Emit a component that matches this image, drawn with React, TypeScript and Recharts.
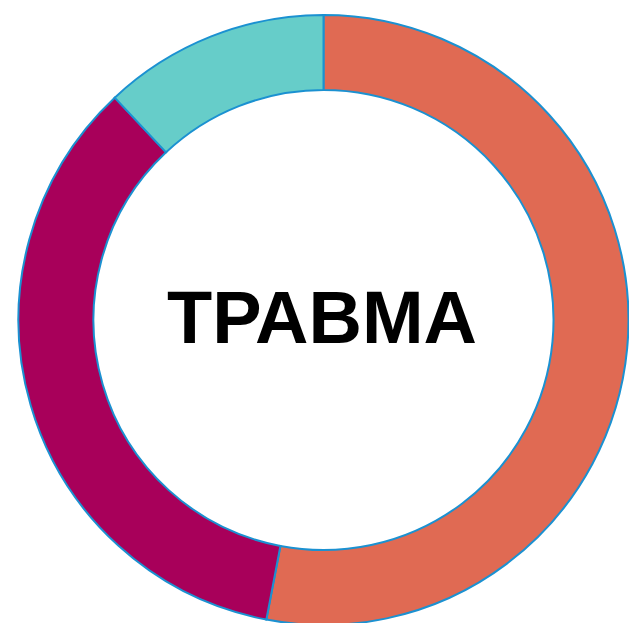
import React from "react";
import { PieChart, Pie, Cell, Label } from "recharts";

const categories = ["Категория 1", "Категория 2", "Категория 3"];
const values = [53, 35, 12];
const sliceColors = ["#E06A53", "#A8005A", "#66CDC9"];
const centerTitle = "ТРАВМА";

const data = categories.map((name, i) => ({ name, value: values[i] }));

export default function App() {
  return (
    <div
      style={{
        position: "fixed",
        left: 0,
        top: 0,
        width: 629,
        height: 623,
        background: "#fff",
      }}
    >
      <PieChart
        width={629}
        height={623}
        margin={{ top: 0, right: 0, bottom: 0, left: 0 }}
      >
        <Pie
          data={data}
          dataKey="value"
          nameKey="name"
          cx={323.5}
          cy={320}
          innerRadius={230}
          outerRadius={305}
          startAngle={90}
          endAngle={-270}
          stroke="#1B91D1"
          strokeWidth={2}
          isAnimationActive={false}
        >
          {data.map((_, index) => (
            <Cell key={`cell-${index}`} fill={sliceColors[index]} />
          ))}
          <Label
            value={centerTitle}
            position="center"
            fill="#000"
            dx={7.5}
            dy={5}
            style={{
              fontFamily: "'Liberation Sans', Arial, sans-serif",
              fontWeight: 700,
              fontSize: 74,
            }}
          />
        </Pie>
      </PieChart>
    </div>
  );
}
